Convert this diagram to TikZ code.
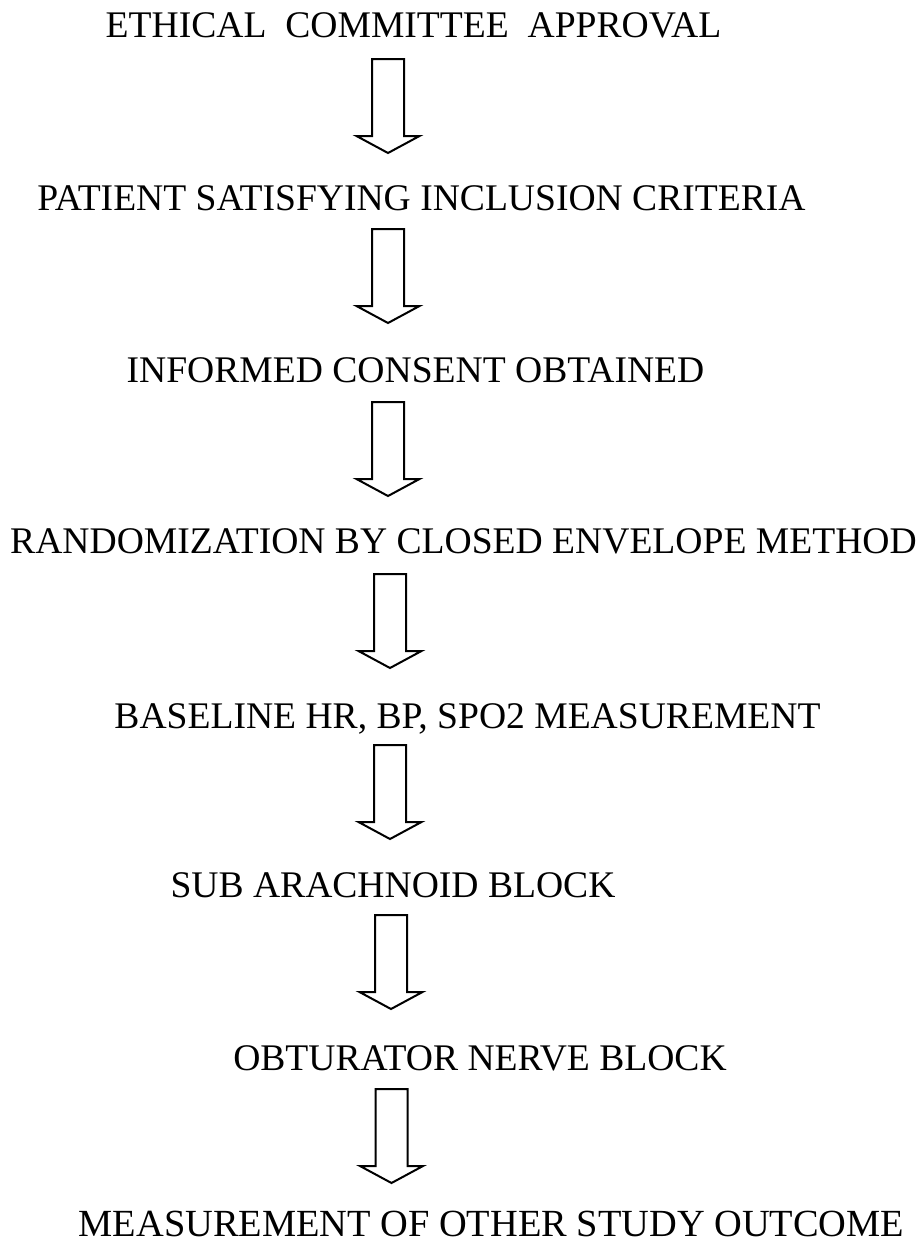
\documentclass[tikz,border=0pt]{standalone}
\usepackage{fontspec}
\setmainfont{Liberation Serif}
\usepackage{tikz}
\tikzset{step txt/.style={anchor=base,inner sep=0pt,text depth=0pt,font=\fontsize{18.8}{20}\selectfont},
  blk/.style={line width=1pt,line join=miter}}
% block arrow hanging below coordinate #1
\newcommand{\downarw}[1]{\draw[blk] (#1) ++(-16,0) -- ++(32,0) -- ++(0,77) -- ++(15.5,0)
  -- ++(-31.5,17) -- ++(-31.5,-17) -- ++(15.5,0) -- cycle;}

\begin{document}
\begin{tikzpicture}[x=.5pt,y=-.5pt]
\useasboundingbox (0,0) rectangle (922,1243);
%steps
\node[step txt] (ethic) at (413.5, 37) {ETHICAL\ \ COMMITTEE\ \ APPROVAL};
\node[step txt] (incl)  at (421.5,210) {PATIENT SATISFYING INCLUSION CRITERIA};
\node[step txt] (cons)  at (415.5,382) {INFORMED CONSENT OBTAINED};
\node[step txt] (rand)  at (463.5,553) {RANDOMIZATION BY CLOSED ENVELOPE METHOD};
\node[step txt] (base)  at (467.5,728) {BASELINE HR, BP, SPO2 MEASUREMENT};
\node[step txt] (sab)   at (393,  897) {SUB ARACHNOID BLOCK};
\node[step txt] (onb)   at (480, 1070) {OBTURATOR NERVE BLOCK};
\node[step txt,font=\fontsize{19.2}{20}\selectfont] (outc) at (491.5,1236) {MEASUREMENT OF OTHER STUDY OUTCOME};
%arrows
\coordinate (a1) at (388,  59);
\coordinate (a2) at (388, 229);
\coordinate (a3) at (388, 402);
\coordinate (a4) at (390, 574);
\coordinate (a5) at (390, 745);
\coordinate (a6) at (391, 915);
\coordinate (a7) at (391.5,1089);
\foreach \a in {a1,a2,a3,a4,a5,a6,a7} {\downarw{\a}}
\end{tikzpicture}
\end{document}
